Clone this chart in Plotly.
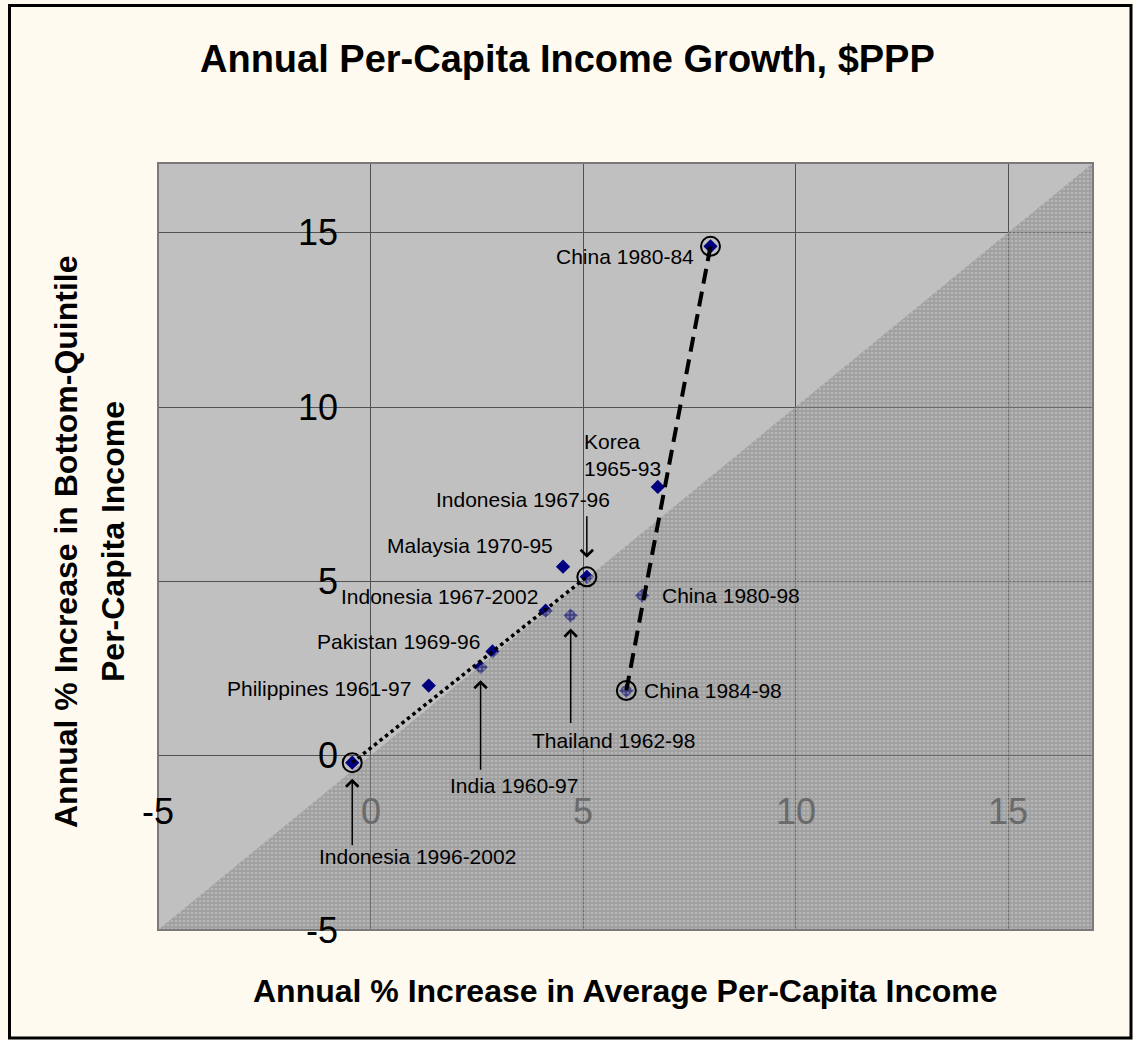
import plotly.graph_objects as go

# ---------------- data ----------------
labels = ["Indonesia 1996-2002", "Philippines 1961-97", "India 1960-97", "Pakistan 1969-96",
          "Indonesia 1967-2002", "Malaysia 1970-95", "Thailand 1962-98", "Indonesia 1967-96",
          "China 1980-98", "Korea<br>1965-93", "China 1980-84", "China 1984-98"]
avg_growth = [-0.43, 1.37, 2.59, 2.87, 4.12, 4.53, 4.71, 5.09, 6.39, 6.76, 8.00, 6.02]
bottom_growth = [-0.20, 2.01, 2.54, 2.99, 4.16, 5.42, 4.02, 5.13, 4.59, 7.71, 14.61, 1.87]
circled = ["Indonesia 1996-2002", "Indonesia 1967-96", "China 1980-84", "China 1984-98"]
dotted_pair = ["Indonesia 1996-2002", "Indonesia 1967-96"]
dashed_pair = ["China 1984-98", "China 1980-84"]
tick_vals = [-5, 0, 5, 10, 15]
tick_text = ["-5", "0", "5", "10", "15"]
axis_min, axis_max = -5, 17

# ---------------- style ----------------
W, H = 1133, 1040
ML, MR, MT, MB = 158, 40, 163, 110
PW, PH = W - ML - MR, H - MT - MB
FONT = "Arial, 'Liberation Sans', sans-serif"
NAVY = "#000080"
GRID = "#505050"

# label placement: (xanchor, dx px, dy px downward, arrow (tail dy, standoff) or None)
label_style = {
    "Indonesia 1996-2002": ("center", 65, 94, (84, 16)),
    "Philippines 1961-97": ("right", -16, 3, None),
    "India 1960-97": ("center", 33, 118, (104, 13)),
    "Pakistan 1969-96": ("right", -10, -10, None),
    "Indonesia 1967-2002": ("right", -6, -14, None),
    "Malaysia 1970-95": ("right", -8, -21, None),
    "Thailand 1962-98": ("center", 43, 125, (109, 13)),
    "Indonesia 1967-96": ("center", -64, -77, (-62, 19)),
    "China 1980-98": ("left", 18, 0, None),
    "Korea<br>1965-93": ("left", -76, -32, None),
    "China 1980-84": ("right", -15, 10, None),
    "China 1984-98": ("left", 16, 0, None),
}

idx = {n: i for i, n in enumerate(labels)}

fig = go.Figure()

# markers (drawn under the textured lower region)
fig.add_trace(go.Scatter(x=avg_growth, y=bottom_growth, mode="markers",
                         marker=dict(symbol="diamond", size=11, color=NAVY, line=dict(width=0)),
                         hoverinfo="skip", showlegend=False))

# textured region below the 45-degree line
fig.add_trace(go.Scatter(x=[axis_min, axis_max, axis_max, axis_min],
                         y=[axis_min, axis_max, axis_min, axis_min],
                         mode="none", fill="toself",
                         fillcolor="rgba(130,130,130,0.5)",
                         fillpattern=dict(shape=".", bgcolor="rgba(128,128,128,0.5)",
                                          fgcolor="#e0e0e0", fgopacity=0.35, size=4, solidity=0.35),
                         hoverinfo="skip", showlegend=False))

# dotted connector
fig.add_trace(go.Scatter(x=[avg_growth[idx[n]] for n in dotted_pair],
                         y=[bottom_growth[idx[n]] for n in dotted_pair],
                         mode="lines", line=dict(color="black", width=3.5, dash="dot"),
                         hoverinfo="skip", showlegend=False))
# dashed connector
fig.add_trace(go.Scatter(x=[avg_growth[idx[n]] for n in dashed_pair],
                         y=[bottom_growth[idx[n]] for n in dashed_pair],
                         mode="lines", line=dict(color="black", width=4, dash="15px,8px"),
                         hoverinfo="skip", showlegend=False))
# circles
fig.add_trace(go.Scatter(x=[avg_growth[idx[n]] for n in circled],
                         y=[bottom_growth[idx[n]] for n in circled],
                         mode="markers",
                         marker=dict(symbol="circle-open", size=19, color="black", line=dict(width=2, color="black")),
                         hoverinfo="skip", showlegend=False))

ann = []
# point labels and arrows
for n, xv, yv in zip(labels, avg_growth, bottom_growth):
    xa, dx, dy, arrow = label_style[n]
    ann.append(dict(x=xv, y=yv, xref="x", yref="y", text=n, showarrow=False,
                    xanchor=xa, yanchor="middle", xshift=dx, yshift=-dy, align=xa,
                    font=dict(family=FONT, size=21, color="black")))
    if arrow:
        ann.append(dict(x=xv, y=yv, xref="x", yref="y", text="", showarrow=True,
                        ax=0, ay=arrow[0], axref="pixel", ayref="pixel",
                        arrowhead=4, arrowsize=1.6, arrowwidth=1.5, arrowcolor="black",
                        standoff=arrow[1]))

# tick labels (axes cross at 0)
for v, t in zip(tick_vals, tick_text):
    ann.append(dict(x=v, y=0, xref="x", yref="y", text=t, showarrow=False,
                    xanchor="center", yanchor="middle", yshift=-56,
                    font=dict(family=FONT, size=36, color="#6a6a6a" if v >= 0 else "black")))
    ann.append(dict(x=0, y=v, xref="x", yref="y", text=t, showarrow=False,
                    xanchor="right", yanchor="middle", xshift=-31,
                    font=dict(family=FONT, size=36, color="black")))


def px_x(p):
    return (p - ML) / PW


def px_y(p):
    return (MT + PH - p) / PH


# titles
ann.append(dict(x=px_x(567), y=px_y(59), xref="paper", yref="paper",
                text="<b>Annual Per-Capita Income Growth, $PPP</b>", showarrow=False,
                xanchor="center", yanchor="middle", font=dict(family=FONT, size=38, color="black")))
ann.append(dict(x=0.5, y=px_y(991), xref="paper", yref="paper",
                text="<b>Annual % Increase in Average Per-Capita Income</b>", showarrow=False,
                xanchor="center", yanchor="middle", font=dict(family=FONT, size=32, color="black")))
ann.append(dict(x=px_x(66), y=px_y(542), xref="paper", yref="paper", textangle=-90,
                text="<b>Annual % Increase in Bottom-Quintile</b>", showarrow=False,
                xanchor="center", yanchor="middle", font=dict(family=FONT, size=32, color="black")))
ann.append(dict(x=px_x(113), y=px_y(542), xref="paper", yref="paper", textangle=-90,
                text="<b>Per-Capita Income</b>", showarrow=False,
                xanchor="center", yanchor="middle", font=dict(family=FONT, size=32, color="black")))

shapes = [
    dict(type="rect", xref="paper", yref="paper", x0=0, x1=1, y0=0, y1=1,
         line=dict(color="#7a7a7a", width=2), fillcolor="rgba(0,0,0,0)", layer="above"),
    dict(type="rect", xref="paper", yref="paper", x0=px_x(9.5), x1=px_x(1131),
         y0=px_y(1038), y1=px_y(5.5), line=dict(color="black", width=3),
         fillcolor="rgba(0,0,0,0)", layer="above"),
]

fig.update_layout(
    width=W, height=H,
    margin=dict(l=ML, r=MR, t=MT, b=MB, pad=0),
    paper_bgcolor="#FFFAEF", plot_bgcolor="#C0C0C0",
    showlegend=False,
    annotations=ann, shapes=shapes,
    xaxis=dict(range=[axis_min, axis_max], tick0=0, dtick=5, showgrid=True, gridcolor=GRID,
               gridwidth=1, zeroline=False, showline=False, showticklabels=False, ticks=""),
    yaxis=dict(range=[axis_min, axis_max], tick0=0, dtick=5, showgrid=True, gridcolor=GRID,
               gridwidth=1, zeroline=False, showline=False, showticklabels=False,
               anchor="free", position=(0 - axis_min) / (axis_max - axis_min),
               ticks="outside", ticklen=13, tickcolor=GRID, tickwidth=1),
)

fig.write_html("out.html", config={"displayModeBar": False},
               post_script="document.body.style.margin='0';document.body.style.overflow='hidden';")
